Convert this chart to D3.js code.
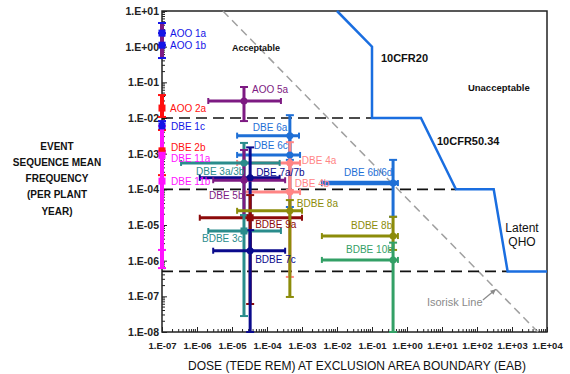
<!DOCTYPE html>
<html><head><meta charset="utf-8">
<script src="https://cdn.jsdelivr.net/npm/d3@7"></script>
<style>
body{margin:0;background:#fff}
svg{display:block}
text{font-family:Arial,"Liberation Sans",sans-serif}
</style>
</head><body>
<svg id="c" width="570" height="374"></svg>
<script>
// ---------------- DATA ----------------
const xTickValues = [1e-7,1e-6,1e-5,1e-4,1e-3,1e-2,1e-1,1e0,1e1,1e2,1e3,1e4];
const yTickValues = [1e-8,1e-7,1e-6,1e-5,1e-4,1e-3,1e-2,1e-1,1e0,1e1];

const eventNames = ["AOO 1a","AOO 1b","AOO 2a","DBE 1c","DBE 2b","DBE 11a","DBE 11b",
  "AOO 5a","DBE 6a","DBE 6c","DBE 4a","DBE 4b","DBE 3a/3b","DBE 7a/7b","DBE 5b",
  "BDBE 9a","BDBE 8a","BDBE 3c","BDBE 7c","DBE 6b/6d","BDBE 8b","BDBE 10b"];
// dose (TEDE rem) mean / low / high (null = no dose bar)
const doseMean = [1e-7,1e-7,1e-7,1e-7,1e-7,1e-7,1e-7,
  2.2e-5,4.5e-4,4.5e-4,4.5e-4,4.5e-4,2.2e-5,3.3e-5,2.2e-5,
  3.3e-5,4.5e-4,2.2e-5,3.3e-5,0.4,0.4,0.4];
const doseLow = [null,null,null,null,null,null,null,
  2.1e-6,1.4e-5,1.4e-5,1.4e-5,2.1e-5,3.5e-7,1.2e-6,2.9e-6,
  1.2e-6,1.4e-5,2.1e-6,2.9e-6,3.7e-3,3.7e-3,3.7e-3];
const doseHigh = [null,null,null,null,null,null,null,
  2.5e-4,8.2e-4,8.8e-4,8.8e-4,8.8e-4,2.3e-4,2.3e-4,3.3e-4,
  1.0e-3,1.0e-3,2.5e-4,3.3e-4,0.55,0.55,0.55];
// frequency (per plant year) mean / low / high
const freqMean = [2.4,1.1,0.019,0.006,1.2e-3,9e-4,1.7e-4,
  0.03,3.2e-3,9.2e-4,5.5e-4,8.4e-5,5.5e-4,2.1e-4,1.8e-4,
  1.6e-5,2.5e-5,6.8e-6,1.9e-6,1.5e-4,4.9e-6,1.05e-6];
const freqLow = [1.1,0.48,0.0107,0.0046,2.5e-4,6.2e-7,2e-6,
  0.0082,6.7e-4,3.2e-5,9.6e-5,3.5e-7,1.6e-5,1.9e-6,1.6e-5,
  6.1e-8,9.6e-8,2.8e-8,1e-8,1.7e-5,2e-6,1e-8];
const freqHigh = [4.6,2.4,0.044,0.0082,4.6e-3,6e-3,1.2e-3,
  0.074,0.012,3.2e-3,2.1e-3,5.5e-4,2e-3,1.5e-3,1.27e-3,
  6.9e-5,5e-5,1.9e-5,7.2e-6,6.7e-4,1.7e-5,3.2e-6];

// regulatory limit curve (10CFR20 / 10CFR50.34 / Latent QHO)
const limitDose = [1e-2,0.1,0.1,2.5,25,300,750,1e4];
const limitFreq = [10,1,1e-2,1e-2,1e-4,1e-4,5e-7,5e-7];
// dashed frequency boundaries and where they meet the limit curve
const boundaryFreq = [1e-2,1e-4,5e-7];
const boundaryDoseEnd = [0.1,25,750];
// isorisk line end points
const isoriskDose = [5.5e-6,5500];
const isoriskFreq = [10,1e-8];

// ---------------- STYLE / LAYOUT ----------------
const C = {blue:"#1414e6", blue2:"#1e6fd6", red:"#ff1010", mag:"#ff10ff", purple:"#7d1a82",
  salmon:"#ff8585", teal:"#2a8c8c", navy:"#0a0a8c", dred:"#8c0a0a", olive:"#8c8c0a", green:"#33a066"};
// [colour, marker, label dx, label dy, bar colour override]
const style = {
  "AOO 1a":[C.blue,"sq",8,0,C.purple],"AOO 1b":[C.blue,"sq",8,0,C.purple],"AOO 2a":[C.red,"sq",8,0],
  "DBE 1c":[C.blue,"sq",9,1],"DBE 2b":[C.red,"sq",9,-3],"DBE 11a":[C.mag,"sq",9,3],"DBE 11b":[C.mag,"sq",9,0],
  "AOO 5a":[C.purple,"ci",8,-11],"DBE 6a":[C.blue2,"ci",-37,-8],"DBE 6c":[C.blue2,"ci",-36,-9],
  "DBE 4a":[C.salmon,"ci",12,-2],"DBE 4b":[C.salmon,"ci",5,-9],"DBE 3a/3b":[C.teal,"ci",-48,9],
  "DBE 7a/7b":[C.navy,"ci",6,-5],"DBE 5b":[C.purple,"ci",-35,15],"BDBE 9a":[C.dred,"sq",5,7],
  "BDBE 8a":[C.olive,"ci",7,-7],"BDBE 3c":[C.teal,"sq",-42,8],"BDBE 7c":[C.navy,"ci",5,9],
  "DBE 6b/6d":[C.blue2,"ci",-49,-11],"BDBE 8b":[C.olive,"ci",-42,-11],"BDBE 10b":[C.green,"ci",-47,-10]
};
const annotations = [
  {t:"Acceptable", d:1e-5, f:0.92, size:9, bold:true, fill:"#111"},
  {t:"10CFR20", d:0.18, f:0.48, size:11, bold:true, fill:"#111"},
  {t:"Unacceptable", d:55, f:0.069, size:9.5, bold:true, fill:"#111"},
  {t:"10CFR50.34", d:7.2, f:0.0023, size:11, bold:true, fill:"#111"},
  {t:"Latent", d:1930, f:8.2e-6, size:12, bold:false, fill:"#111", mid:true},
  {t:"QHO", d:1930, f:3.3e-6, size:12, bold:false, fill:"#111", mid:true},
  {t:"Isorisk Line", d:3.7, f:6.9e-8, size:11, bold:false, fill:"#8a8a8a"}
];

// ---------------- CHART ----------------
const svg = d3.select("#c");
const L=162, R=547, T=11, B=332;
const x = d3.scaleLog().domain([1e-7,1e4]).range([L,R]);
const y = d3.scaleLog().domain([1e-8,10]).range([B,T]);
const fmt = v => { const e=Math.round(Math.log10(v)); return "1.E"+(e<0?"-":"+")+String(Math.abs(e)).padStart(2,"0"); };

// axes
const gx = svg.append("g").attr("transform",`translate(0,${B})`)
  .call(d3.axisBottom(x).tickValues(xTickValues).tickFormat(fmt).tickSizeInner(-5).tickSizeOuter(0).tickPadding(10));
gx.selectAll("text").attr("font-size",9.5).attr("font-weight","bold").attr("fill","#222").attr("font-family","Arial,'Liberation Sans',sans-serif");
const gy = svg.append("g").attr("transform",`translate(${L},0)`)
  .call(d3.axisLeft(y).tickValues(yTickValues).tickFormat(fmt).tickSizeInner(-5).tickSizeOuter(0).tickPadding(3));
gy.selectAll("text").attr("font-size",10.5).attr("font-weight","bold").attr("fill","#222").attr("font-family","Arial,'Liberation Sans',sans-serif");
[gx,gy].forEach(g=>{g.select(".domain").remove(); g.selectAll("line").attr("stroke","#222").attr("stroke-width",1);});

// minor ticks
const minorX=[], minorY=[];
for(let e=-7;e<4;e++) for(let m=2;m<10;m++) minorX.push(m*Math.pow(10,e));
for(let e=-8;e<1;e++) for(let m=2;m<10;m++) minorY.push(m*Math.pow(10,e));
svg.append("g").selectAll("line").data(minorX).join("line")
  .attr("x1",d=>x(d)).attr("x2",d=>x(d)).attr("y1",B).attr("y2",B-3).attr("stroke","#222").attr("stroke-width",1);
svg.append("g").selectAll("line").data(minorY).join("line")
  .attr("y1",d=>y(d)).attr("y2",d=>y(d)).attr("x1",L).attr("x2",L+3).attr("stroke","#222").attr("stroke-width",1);

// frame
svg.append("rect").attr("x",L).attr("y",T).attr("width",R-L).attr("height",B-T)
  .attr("fill","none").attr("stroke","#222").attr("stroke-width",1.5);

// isorisk line
svg.append("line").attr("x1",x(isoriskDose[0])).attr("y1",y(isoriskFreq[0]))
  .attr("x2",x(isoriskDose[1])).attr("y2",y(isoriskFreq[1]))
  .attr("stroke","#a0a0a0").attr("stroke-width",1.5).attr("stroke-dasharray","8,5");

// dashed boundaries
boundaryFreq.forEach((f,i)=>{
  svg.append("line").attr("x1",L).attr("x2",x(boundaryDoseEnd[i])).attr("y1",y(f)).attr("y2",y(f))
    .attr("stroke","#111").attr("stroke-width",1.6).attr("stroke-dasharray","11,6");
});

// limit curve
svg.append("path").datum(limitDose.map((d,i)=>[d,limitFreq[i]]))
  .attr("d",d3.line().x(d=>x(d[0])).y(d=>y(d[1])))
  .attr("fill","none").attr("stroke","#1a6ee0").attr("stroke-width",2.5);

// error bars
const items = eventNames.map((n,i)=>({n,dm:doseMean[i],dl:doseLow[i],dh:doseHigh[i],fm:freqMean[i],fl:freqLow[i],fh:freqHigh[i]}));
const gb = svg.append("g");
items.forEach(it=>{
  const col = style[it.n][0];
  const barCol = style[it.n][4] || col;
  const cx=x(it.dm), cy=y(it.fm);
  const onAxis = it.dl===null;
  const vw = onAxis?4:3;
  gb.append("line").attr("x1",cx).attr("x2",cx).attr("y1",y(it.fl)).attr("y2",y(it.fh)).attr("stroke",barCol).attr("stroke-width",vw);
  [it.fl,it.fh].forEach(f=>gb.append("line").attr("x1",cx-4).attr("x2",cx+4).attr("y1",y(f)).attr("y2",y(f)).attr("stroke",col).attr("stroke-width",2));
  if(!onAxis){
    const hw = it.n==="DBE 6b/6d"?4.5:3;
    gb.append("line").attr("x1",x(it.dl)).attr("x2",x(it.dh)).attr("y1",cy).attr("y2",cy).attr("stroke",col).attr("stroke-width",hw);
    [it.dl,it.dh].forEach(d=>gb.append("line").attr("x1",x(d)).attr("x2",x(d)).attr("y1",cy-3).attr("y2",cy+3).attr("stroke",col).attr("stroke-width",2));
  }
});
// markers
items.forEach(it=>{
  const [col,shape] = style[it.n];
  const cx=x(it.dm), cy=y(it.fm);
  if(shape==="sq") gb.append("rect").attr("x",cx-3.5).attr("y",cy-3.5).attr("width",7).attr("height",7).attr("fill",col);
  else gb.append("circle").attr("cx",cx).attr("cy",cy).attr("r",3.5).attr("fill",col);
});
// labels
items.forEach(it=>{
  const [col,,dx,dy] = style[it.n];
  svg.append("text").attr("x",x(it.dm)+dx).attr("y",y(it.fm)+dy).attr("dy","0.35em")
    .attr("font-size",10).attr("fill",col).text(it.n);
});

// annotations
annotations.forEach(a=>{
  svg.append("text").attr("x",x(a.d)).attr("y",y(a.f)).attr("dy","0.35em")
    .attr("text-anchor",a.mid?"middle":"start")
    .attr("font-size",a.size).attr("font-weight",a.bold?"bold":"normal").attr("fill",a.fill).text(a.t);
});
// isorisk pointer
const ia = svg.append("g");
const px0 = x(3.7)+56, py0 = y(6.9e-8)-2;
const ix = x(isoriskDose[0]), iy=y(isoriskFreq[0]), ix2=x(isoriskDose[1]), iy2=y(isoriskFreq[1]);
const tX = px0+13; const tY = iy + (tX-ix)*(iy2-iy)/(ix2-ix);
ia.append("line").attr("x1",px0).attr("y1",py0).attr("x2",tX).attr("y2",tY).attr("stroke","#8a8a8a").attr("stroke-width",1.2);
const ang = Math.atan2(tY-py0,tX-px0);
ia.append("path").attr("d",`M${tX},${tY} L${tX-6*Math.cos(ang-0.45)},${tY-6*Math.sin(ang-0.45)} L${tX-6*Math.cos(ang+0.45)},${tY-6*Math.sin(ang+0.45)} Z`).attr("fill","#8a8a8a");

// axis titles
svg.append("text").attr("x",357).attr("y",366).attr("dy","0.35em").attr("text-anchor","middle")
  .attr("font-size",12).attr("fill","#111").text("DOSE (TEDE REM) AT EXCLUSION AREA BOUNDARY (EAB)");
const yt = ["EVENT","SEQUENCE MEAN","FREQUENCY","(PER PLANT","YEAR)"];
svg.append("g").selectAll("text").data(yt).join("text")
  .attr("x",57).attr("y",(d,i)=>146+i*16.25).attr("dy","0.35em").attr("text-anchor","middle")
  .attr("font-size",10).attr("font-weight","bold").attr("fill","#111").text(d=>d);
</script>
</body></html>
